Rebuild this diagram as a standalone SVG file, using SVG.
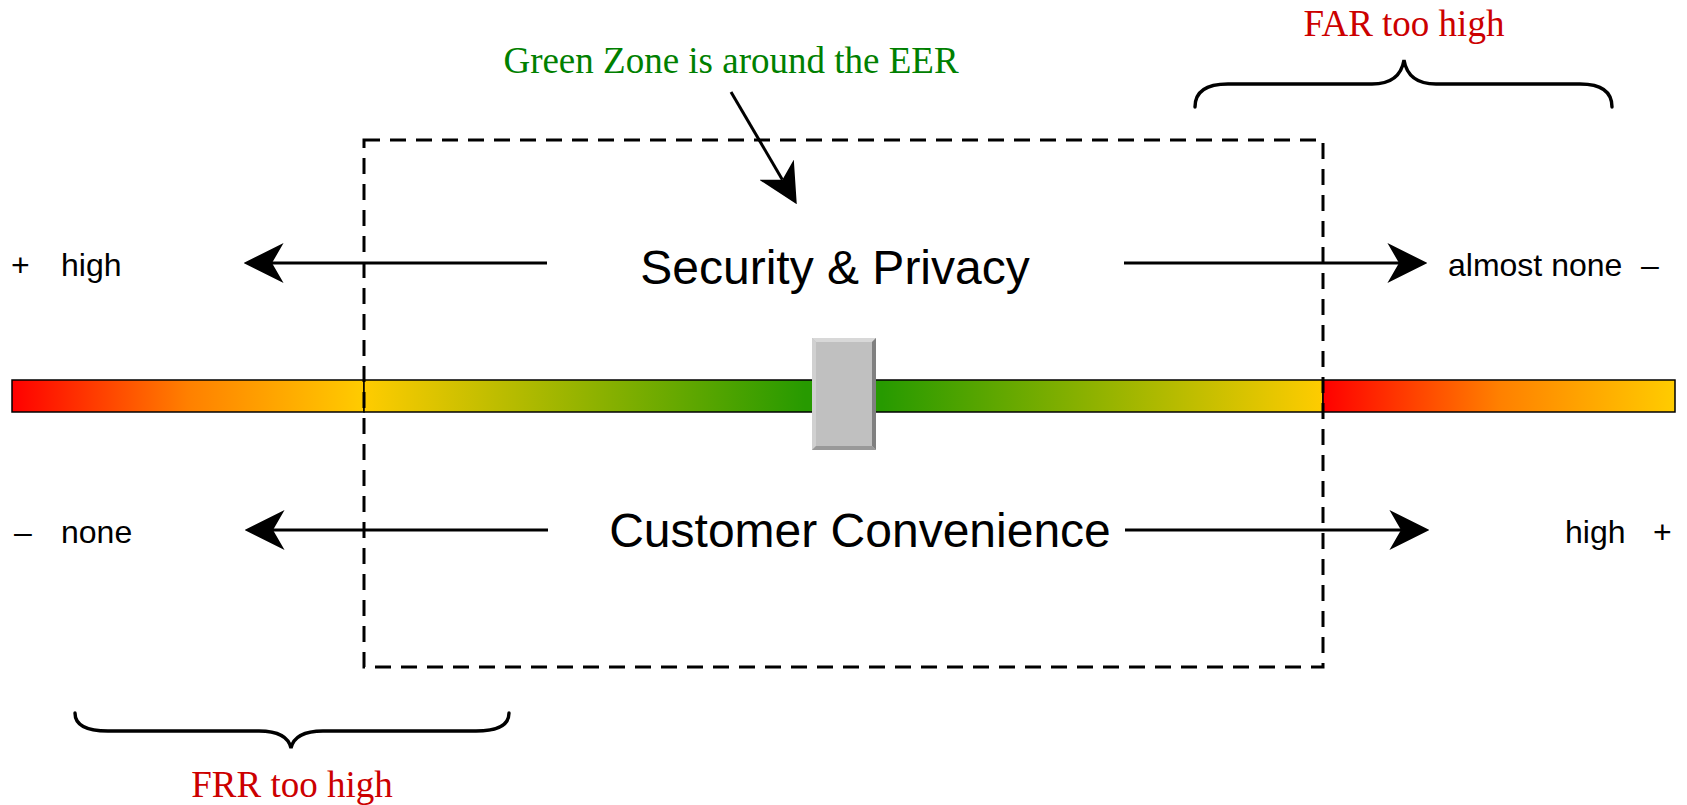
<svg xmlns="http://www.w3.org/2000/svg" width="1687" height="805" viewBox="0 0 1687 805">
<style>
.sans{font-family:"Liberation Sans",Arial,sans-serif;fill:#000}
.big{font-size:48px}
.small{font-size:32px}
.serif{font-family:"Liberation Serif","Times New Roman",serif;font-size:37px}
.red{fill:#CC0000}
.green{fill:#008000}
.conn{fill:none;stroke:#000;stroke-width:3}
.brace{fill:none;stroke:#000;stroke-width:3.4;stroke-linecap:round}
.seg{stroke:#000;stroke-width:1.5}
</style>
<defs>
<linearGradient id="gRY" x1="0" y1="0" x2="1" y2="0">
<stop offset="0" stop-color="#FF0000"/>
<stop offset="0.5" stop-color="#FF8000"/>
<stop offset="1" stop-color="#FFCC00"/>
</linearGradient>
<linearGradient id="gYGY" x1="0" y1="0" x2="1" y2="0">
<stop offset="0" stop-color="#FFCC00"/>
<stop offset="0.46" stop-color="#279A00"/>
<stop offset="0.54" stop-color="#279A00"/>
<stop offset="1" stop-color="#FFCC00"/>
</linearGradient>
<marker id="ah" markerUnits="userSpaceOnUse" markerWidth="40" markerHeight="40" viewBox="0 0 38 38" refX="11" refY="19" orient="auto">
<path d="M0,0 L38,19 L0,38 L11,19 Z" fill="#000"/>
</marker>
</defs>

<g id="bar">
<rect class="seg" x="12" y="380" width="352" height="32" fill="url(#gRY)"/>
<rect class="seg" x="364" y="380" width="959" height="32" fill="url(#gYGY)"/>
<rect class="seg" x="1323" y="380" width="352" height="32" fill="url(#gRY)"/>
</g>

<g id="green-zone">
<rect x="364" y="140" width="959" height="527" fill="none" stroke="#000" stroke-width="3" stroke-dasharray="16 10"/>
</g>

<g id="slider">
<rect x="812" y="338" width="64" height="112" fill="#C0C0C0"/>
<polygon points="812,338 876,338 872,342 816,342" fill="#D8D8D8"/>
<polygon points="812,338 816,342 816,446 812,450" fill="#D0D0D0"/>
<polygon points="876,338 876,450 872,446 872,342" fill="#808080"/>
<polygon points="812,450 876,450 872,446 816,446" fill="#999999"/>
</g>

<g id="connectors">
<line class="conn" x1="547" y1="263" x2="272" y2="263" marker-end="url(#ah)"/>
<line class="conn" x1="1124" y1="263" x2="1399" y2="263" marker-end="url(#ah)"/>
<line class="conn" x1="548" y1="530" x2="273" y2="530" marker-end="url(#ah)"/>
<line class="conn" x1="1125" y1="530" x2="1401" y2="530" marker-end="url(#ah)"/>
<line class="conn" x1="731" y1="92" x2="782.4" y2="179.7" marker-end="url(#ah)"/>
</g>

<g id="far-brace">
<path class="brace" d="M1195,107 Q1195,84 1228,84 L1372,84 Q1400,84 1404,60 Q1408,84 1436,84 L1580,84 Q1612,84 1612,107"/>
</g>
<g id="frr-brace">
<path class="brace" d="M75,713 Q75,731 108,731 L259,731 Q287,731 291,748 Q295,731 323,731 L476,731 Q509,731 509,713"/>
</g>

<g id="labels">
<text class="sans big" x="835" y="284" text-anchor="middle">Security &amp; Privacy</text>
<text class="sans big" x="860" y="547" text-anchor="middle">Customer Convenience</text>
<text class="sans small" x="11" y="276">+</text>
<text class="sans small" x="61" y="276">high</text>
<text class="sans small" x="1448" y="276">almost none</text>
<text class="sans small" x="1641" y="276">–</text>
<text class="sans small" x="14" y="543">–</text>
<text class="sans small" x="61" y="543">none</text>
<text class="sans small" x="1565" y="543">high</text>
<text class="sans small" x="1653" y="543">+</text>
<text class="serif green" x="731" y="73" text-anchor="middle">Green Zone is around the EER</text>
<text class="serif red" x="1404" y="36" text-anchor="middle">FAR too high</text>
<text class="serif red" x="292" y="797" text-anchor="middle">FRR too high</text>
</g>
</svg>
